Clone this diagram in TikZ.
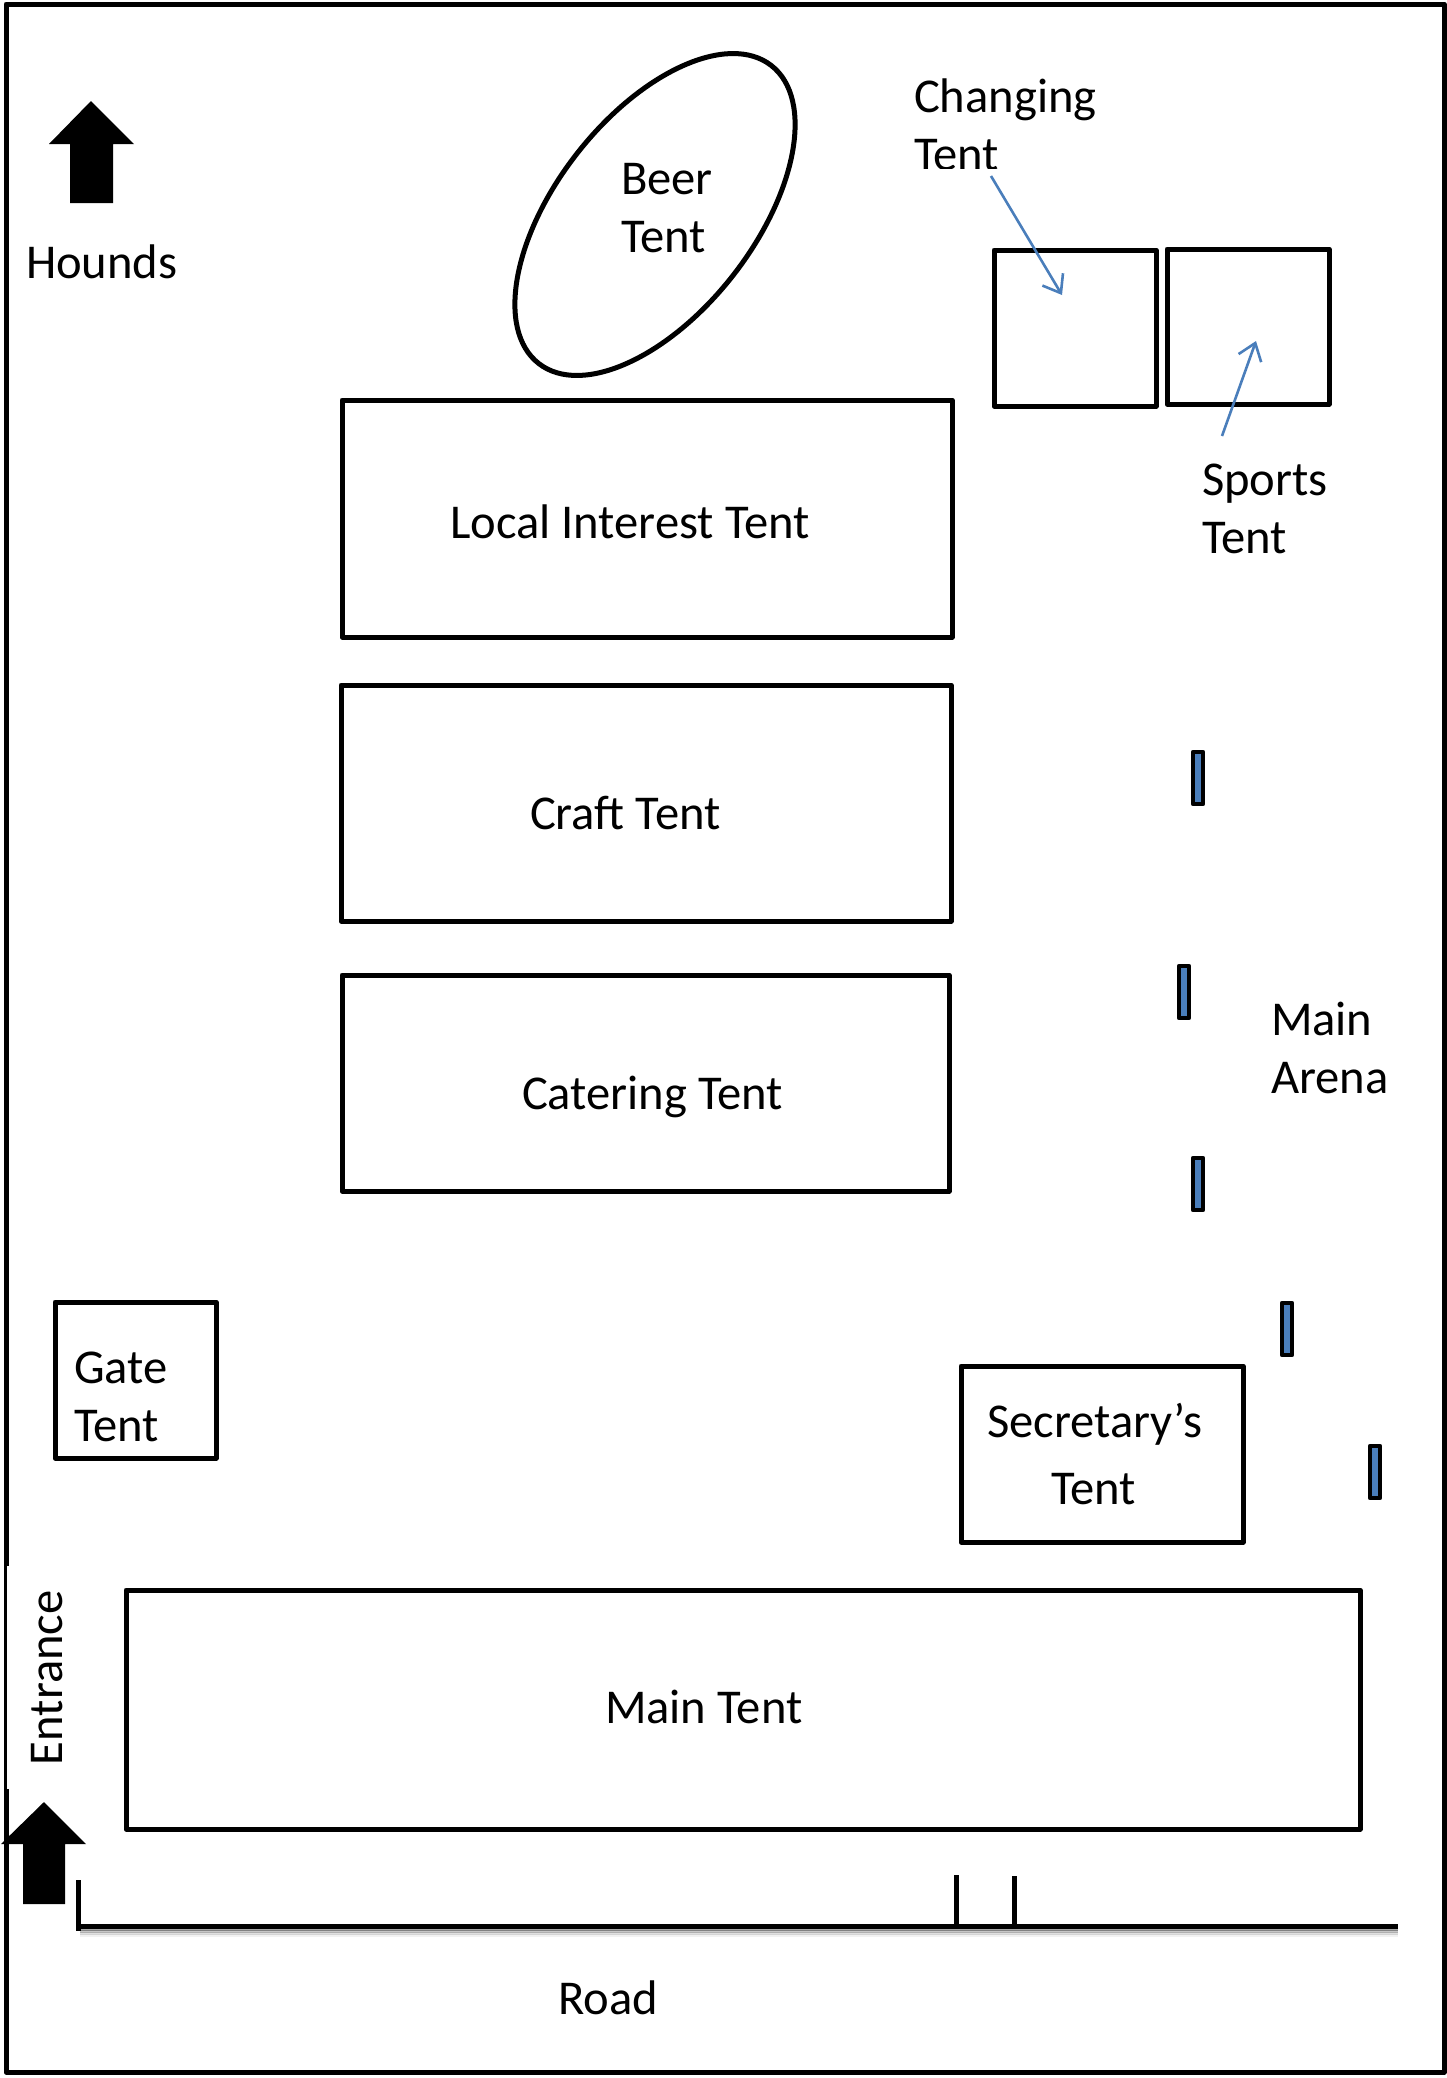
\documentclass[tikz,border=0pt]{standalone}
\usepackage{fontspec}
\setmainfont{Carlito}
\usetikzlibrary{shapes.geometric,arrows.meta}
\definecolor{pegblue}{HTML}{4A7EBB}
\tikzset{
  tentbox/.style={draw=black,line width=5pt,line join=round,rectangle,inner sep=0pt,outer sep=0pt,anchor=north west},
  peg/.style={draw=black,fill=pegblue,line width=4.4pt,line join=round,rectangle,inner sep=0pt,outer sep=0pt,anchor=north west,minimum width=10pt,minimum height=52pt},
  lbl/.style={inner sep=0pt,outer sep=0pt,anchor=base west,font=\fontsize{48.6}{58}\selectfont,align=left},
  blockarrow/.style={fill=black,draw=none},
  pointer/.style={draw=pegblue,line width=2.6pt,-{Straight Barb[length=16pt,width=24pt,line width=2.6pt]}},
  roadline/.style={draw=black,line width=5pt},
}
\begin{document}
\begin{tikzpicture}[x=1pt,y=-1pt]
\useasboundingbox (0,0) rectangle (1447,2078);
% frame
\node[tentbox,minimum width=1438pt,minimum height=2068pt] (frame) at (6,4) {};
% entrance gap
\fill[white] (7,1566) rectangle (30,1789);
% ellipse
\node[ellipse,draw=black,line width=5pt,inner sep=0pt,outer sep=0pt,minimum width=378pt,minimum height=198pt,rotate=52] (beer) at (655,214.5) {};
% tents
\node[tentbox,minimum width=610pt,minimum height=237pt] (local) at (342,400) {};
\node[tentbox,minimum width=610pt,minimum height=236pt] (craft) at (341,685) {};
\node[tentbox,minimum width=607pt,minimum height=216pt] (catering) at (342,975) {};
\node[tentbox,minimum width=161pt,minimum height=156pt] (gate) at (55,1302) {};
\node[tentbox,minimum width=282pt,minimum height=176pt] (secretary) at (961,1366) {};
\node[tentbox,minimum width=1234pt,minimum height=239pt] (main) at (126,1590) {};
\node[tentbox,minimum width=162pt,minimum height=156pt] (changing) at (994,250) {};
\node[tentbox,minimum width=162pt,minimum height=155pt] (sports) at (1167,249) {};
% pegs
\node[peg] (p1) at (1193,752) {};
\node[peg] (p2) at (1179,966) {};
\node[peg] (p3) at (1193,1158) {};
\node[peg] (p4) at (1282,1303) {};
\node[peg] (p5) at (1370,1446) {};
% block arrows
\fill[blockarrow] (91,101) -- (134,144) -- (113,144) -- (113,203) -- (70,203) -- (70,144) -- (49,144) -- cycle;
\fill[blockarrow] (44,1802) -- (86,1844) -- (65,1844) -- (65,1904) -- (23,1904) -- (23,1844) -- (1,1844) -- cycle;
% road shadow
\foreach \d/\o in {3/0.35,5/0.22,7/0.12,9/0.05}{
  \draw[black,opacity=\o,line width=3pt] (80,1926+\d) -- (1398,1926+\d);
}
% road
\coordinate (roadL) at (77,1926);
\coordinate (roadR) at (1398,1926);
\coordinate (tickA) at (78,1880);
\coordinate (tickAb) at (78,1931);
\coordinate (tickB) at (956,1875);
\coordinate (tickBb) at (956,1926);
\coordinate (tickC) at (1014,1876);
\coordinate (tickCb) at (1014,1926);
\draw[roadline] (roadL) -- (roadR);
\draw[roadline] (tickA) -- (tickAb);
\draw[roadline] (tickB) -- (tickBb);
\draw[roadline] (tickC) -- (tickCb);
% labels
\node[lbl] (hounds) at (26,278) {Hounds};
\node[lbl] (beerT) at (621,252) {Beer\\Tent};
\node[lbl] (chgT) at (914,170) {Changing\\Tent};
\fill[white] (905,169) rectangle (1010,176);
\node[lbl] (spoT) at (1202,553) {Sports\\Tent};
\node[lbl] (locT) at (450,538) {Local Interest Tent};
\node[lbl] (craT) at (530,829) {Craft Tent};
\node[lbl] (catT) at (522,1109) {Catering Tent};
\node[lbl] (gatT) at (74,1441) {Gate\\Tent};
\node[lbl] (secT) at (987,1437) {Secretary’s};
\node[lbl] (secU) at (1051,1504) {Tent};
\node[lbl] (mainT) at (605,1723) {Main Tent};
\node[lbl] (arena) at (1271,1093) {Main\\Arena};
\node[lbl] (road) at (558,2014) {Road};
\node[lbl,rotate=90] (entr) at (62,1765) {Entrance};
% pointers
\coordinate (chgS) at (991,176);
\coordinate (chgE) at (1062,295);
\coordinate (spoS) at (1222,436);
\coordinate (spoE) at (1256,341);
\draw[pointer] (chgS) -- (chgE);
\draw[pointer] (spoS) -- (spoE);
\end{tikzpicture}
\end{document}
